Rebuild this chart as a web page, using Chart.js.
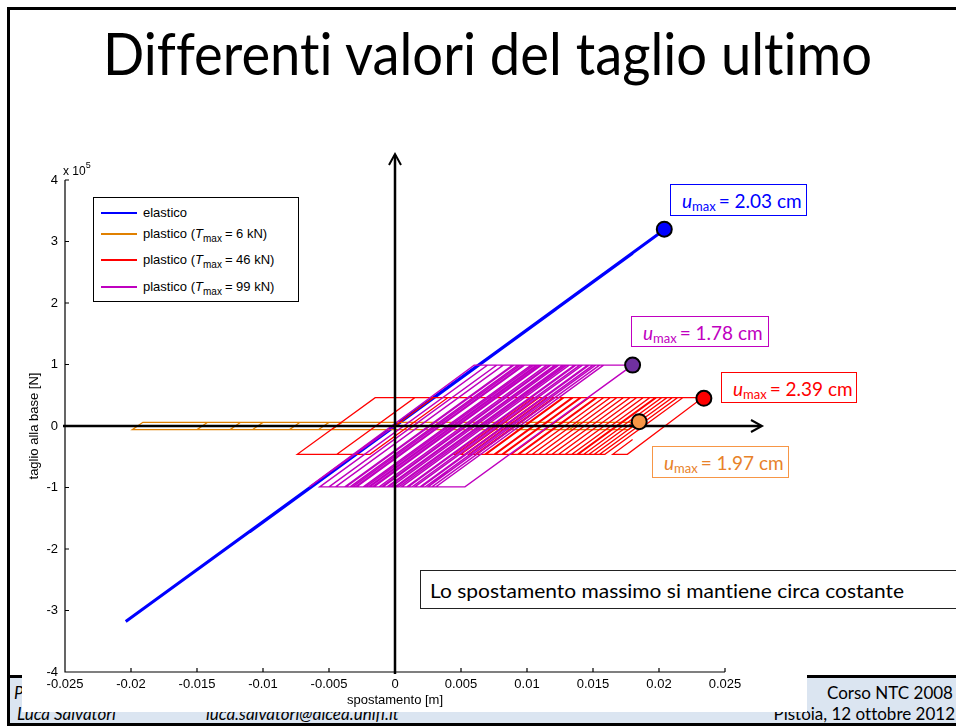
<!DOCTYPE html>
<html>
<head>
<meta charset="utf-8">
<script src="https://cdn.jsdelivr.net/npm/chart.js@4.4.1/dist/chart.umd.min.js"></script>
<style>
  html, body { margin: 0; padding: 0; background: #fff; }
  body { width: 956px; height: 727px; position: relative; overflow: hidden; font-family: Lato, 'Noto Sans', sans-serif; font-variant-ligatures: none; }
  .abs { position: absolute; }
  .bar { position: absolute; background: #000; z-index: 6; }
  #footer { left: 10px; top: 675px; width: 946px; height: 48px; background: #dbe5f1; border-top: 3px solid #000; box-sizing: border-box; z-index: 1; }
  .ft { position: absolute; font-size: 17px; line-height: 1; white-space: nowrap; color: #000; z-index: 2; }
  .ft.it { font-style: italic; }
  #figure { left: 22px; top: 120px; width: 785px; height: 592px; background: #fff; z-index: 3; }
  #c { position: absolute; left: 0; top: 0; z-index: 4; }
  #title { position: absolute; left: 10px; top: 24px; width: 956px; text-align: center; z-index: 5; }
  #title span { display: inline-block; font-size: 58px; line-height: 1; white-space: nowrap; transform-origin: center; }
  .ann { position: absolute; z-index: 5; background: #fff; border: 1.5px solid; box-sizing: border-box; font-size: 19px; white-space: nowrap; }
  .ann span { position: absolute; left: 11px; top: 50%; transform: translateY(-50%); line-height: 1; }
  .ann i { font-style: italic; }
  .ann sub { font-size: 13px; vertical-align: -3px; line-height: 0; margin-right: 3px; }
  #note { position: absolute; z-index: 5; left: 420px; top: 570px; width: 560px; height: 39px; border: 1.5px solid #222; box-sizing: border-box; background: #fff; }
  #note span { position: absolute; left: 9px; top: 8px; font-size: 20px; line-height: 1.1; white-space: nowrap; transform-origin: left center; }
  #legend { position: absolute; z-index: 5; left: 93px; top: 197px; width: 206px; height: 105px; border: 1.5px solid #000; box-sizing: border-box; background: #fff; font-family: 'Liberation Sans', Arial, sans-serif; font-size: 13px; }
  .lrow { position: absolute; left: 0; height: 18px; white-space: nowrap; }
  .lline { position: absolute; left: 7px; top: 8px; width: 36px; height: 2px; }
  .ltxt { position: absolute; left: 49px; top: 2px; line-height: 1; }
  .lrow sub { font-size: 10px; vertical-align: -4px; line-height: 0; margin-right: 3px; }
  #exp { position: absolute; z-index: 5; left: 63px; top: 165px; font-family: 'Liberation Sans', Arial, sans-serif; font-size: 12px; line-height: 1; }
  #exp sup { font-size: 9px; vertical-align: 7px; line-height: 0; }
</style>
</head>
<body>
<div class="bar" style="left:7px;top:7px;width:3px;height:719px"></div>
<div class="bar" style="left:7px;top:7px;width:949px;height:3px"></div>
<div class="bar" style="left:7px;top:723px;width:949px;height:3px"></div>

<div id="footer" class="abs"></div>
<div class="ft it" style="left:14px;top:684px">P</div>
<div class="ft it" style="left:17px;top:705px">Luca Salvatori</div>
<div class="ft it" style="left:206px;top:705px">luca.salvatori@dicea.unifi.it</div>
<div class="ft" style="right:3px;top:684px">Corso NTC 2008</div>
<div class="ft" style="right:1px;top:705px">Pistoia, 12 ottobre 2012</div>

<div id="figure" class="abs"></div>
<canvas id="c" width="956" height="727"></canvas>

<div id="title"><span>Differenti valori del taglio ultimo</span></div>
<div id="exp">x 10<sup>5</sup></div>

<div id="legend">
  <div class="lrow" style="top:6px"><span class="lline" style="background:#0000ff"></span><span class="ltxt">elastico</span></div>
  <div class="lrow" style="top:27px"><span class="lline" style="background:#e08000"></span><span class="ltxt">plastico (<i>T</i><sub>max</sub>= 6 kN)</span></div>
  <div class="lrow" style="top:53px"><span class="lline" style="background:#ff0000"></span><span class="ltxt">plastico (<i>T</i><sub>max</sub>= 46 kN)</span></div>
  <div class="lrow" style="top:80px"><span class="lline" style="background:#bf00bf"></span><span class="ltxt">plastico (<i>T</i><sub>max</sub>= 99 kN)</span></div>
</div>

<div class="ann" style="left:670px;top:184px;width:137px;height:32px;color:#0000ff;border-color:#0000ff"><span><i>u</i><sub>max</sub>= 2.03 cm</span></div>
<div class="ann" style="left:631px;top:316px;width:138px;height:31px;color:#c000c0;border-color:#c000c0"><span><i>u</i><sub>max</sub>= 1.78 cm</span></div>
<div class="ann" style="left:721px;top:372px;width:136px;height:31px;color:#ff0000;border-color:#ff0000"><span><i>u</i><sub>max</sub>= 2.39 cm</span></div>
<div class="ann" style="left:652px;top:446px;width:137px;height:32px;color:#e8822a;border-color:#f79646"><span><i>u</i><sub>max</sub>= 1.97 cm</span></div>
<div id="note"><span>Lo spostamento massimo si mantiene circa costante</span></div>

<script>
// spostamento [m], taglio [x 1e5 N]
const xTicks = [-0.025, -0.02, -0.015, -0.01, -0.005, 0, 0.005, 0.01, 0.015, 0.02, 0.025];
const yTicks = [-4, -3, -2, -1, 0, 1, 2, 3, 4];

const elastico = [
  [0, 0], [0.0122, 1.90], [-0.0150, -2.34], [0.0180, 2.81], [-0.0204, -3.18],
  [0.0160, 2.50], [-0.0110, -1.72], [0.0204, 3.19]
];

const plast6 = [
  [0, 0], [0.0004, 0.06], [0.0030, 0.06], [0.0022, -0.06], [-0.0080, -0.06],
  [-0.0072, 0.06], [-0.0040, 0.06], [-0.0048, -0.06], [-0.0150, -0.06], [-0.0142, 0.06],
  [-0.0100, 0.06], [-0.0108, -0.06], [-0.0199, -0.06], [-0.0191, 0.06], [-0.0050, 0.06],
  [-0.0058, -0.06], [-0.0125, -0.06], [-0.0117, 0.06], [0.0080, 0.06], [0.0072, -0.06],
  [0.0010, -0.06], [0.0018, 0.06], [0.0140, 0.06], [0.0132, -0.06], [0.0060, -0.06],
  [0.0068, 0.06], [0.0185, 0.06], [0.0177, -0.06], [0.0120, -0.06]
];

const plast46 = [
  [0, 0], [0.0029, 0.46], [0.0040, 0.46], [-0.0019, -0.46], [-0.0074, -0.46],
  [-0.0015, 0.46], [0.0015, 0.46], [-0.0044, -0.46], [0.0015, 0.46],
  [0.0105, 0.46], [0.0046, -0.46], [0.0044, -0.46], [0.0103, 0.46],
  [0.0112, 0.46], [0.0053, -0.46], [0.0050, -0.46], [0.0109, 0.46],
  [0.0120, 0.46], [0.0061, -0.46], [0.0056, -0.46], [0.0115, 0.46],
  [0.0128, 0.46], [0.0069, -0.46], [0.0062, -0.46], [0.0121, 0.46],
  [0.0135, 0.46], [0.0076, -0.46], [0.0068, -0.46], [0.0127, 0.46],
  [0.0140, 0.46], [0.0081, -0.46], [0.0075, -0.46], [0.0134, 0.46],
  [0.0147, 0.46], [0.0088, -0.46], [0.0082, -0.46], [0.0141, 0.46],
  [0.0152, 0.46], [0.0093, -0.46], [0.0088, -0.46], [0.0147, 0.46],
  [0.0158, 0.46], [0.0099, -0.46], [0.0094, -0.46], [0.0153, 0.46],
  [0.0163, 0.46], [0.0104, -0.46], [0.0099, -0.46], [0.0158, 0.46],
  [0.0168, 0.46], [0.0109, -0.46], [0.0104, -0.46], [0.0163, 0.46],
  [0.0173, 0.46], [0.0114, -0.46], [0.0109, -0.46], [0.0168, 0.46],
  [0.0178, 0.46], [0.0119, -0.46], [0.0114, -0.46], [0.0173, 0.46],
  [0.0183, 0.46], [0.0124, -0.46], [0.0119, -0.46], [0.0178, 0.46],
  [0.0188, 0.46], [0.0129, -0.46], [0.0124, -0.46], [0.0183, 0.46],
  [0.0193, 0.46], [0.0134, -0.46], [0.0129, -0.46], [0.0188, 0.46],
  [0.0197, 0.46], [0.0138, -0.46], [0.0134, -0.46], [0.0193, 0.46],
  [0.0202, 0.46], [0.0143, -0.46], [0.0139, -0.46], [0.0198, 0.46],
  [0.0206, 0.46], [0.0147, -0.46], [0.0143, -0.46], [0.0202, 0.46],
  [0.0210, 0.46], [0.0151, -0.46], [0.0147, -0.46], [0.0206, 0.46],
  [0.0214, 0.46], [0.0155, -0.46], [0.0151, -0.46], [0.0210, 0.46],
  [0.0218, 0.46], [0.0159, -0.46], [0.0155, -0.46], [0.0214, 0.46],
  [0.0233, 0.46], [0.0176, -0.46], [0.0165, -0.46], [0.0180, -0.22]
];

const plast99 = [
  [0, 0], [-0.0065, -0.99], [0.0060, 0.99],
  [0.0090, 0.99], [-0.0037, -0.99], [-0.0057, -0.99], [0.0070, 0.99],
  [0.0082, 0.99], [-0.0045, -0.99], [-0.0050, -0.99], [0.0077, 0.99],
  [0.0095, 0.99], [-0.0032, -0.99], [-0.0045, -0.99], [0.0082, 0.99],
  [0.0105, 0.99], [-0.0022, -0.99], [-0.0038, -0.99], [0.0089, 0.99],
  [0.0098, 0.99], [-0.0029, -0.99], [-0.0034, -0.99], [0.0093, 0.99],
  [0.0110, 0.99], [-0.0017, -0.99], [-0.0030, -0.99], [0.0097, 0.99],
  [0.0108, 0.99], [-0.0019, -0.99], [-0.0024, -0.99], [0.0103, 0.99],
  [0.0118, 0.99], [-0.0009, -0.99], [-0.0020, -0.99], [0.0107, 0.99],
  [0.0115, 0.99], [-0.0012, -0.99], [-0.0016, -0.99], [0.0111, 0.99],
  [0.0124, 0.99], [-0.0003, -0.99], [-0.0010, -0.99], [0.0117, 0.99],
  [0.0122, 0.99], [-0.0005, -0.99], [-0.0006, -0.99], [0.0121, 0.99],
  [0.0128, 0.99], [0.0001, -0.99], [-0.0003, -0.99], [0.0124, 0.99],
  [0.0130, 0.99], [0.0003, -0.99], [0.0000, -0.99], [0.0127, 0.99],
  [0.0136, 0.99], [0.0009, -0.99], [0.0005, -0.99], [0.0132, 0.99],
  [0.0140, 0.99], [0.0013, -0.99], [0.0010, -0.99], [0.0137, 0.99],
  [0.0146, 0.99], [0.0019, -0.99], [0.0015, -0.99], [0.0142, 0.99],
  [0.0150, 0.99], [0.0023, -0.99], [0.0020, -0.99], [0.0147, 0.99],
  [0.0155, 0.99], [0.0028, -0.99], [0.0025, -0.99], [0.0152, 0.99],
  [0.0158, 0.99], [0.0031, -0.99], [0.0028, -0.99], [0.0155, 0.99],
  [0.0180, 0.99], [0.0053, -0.99], [0.0025, -0.99], [0.0040, -0.75]
];

// u_max points
const maxPts = [[0.0204, 3.20], [0.0185, 0.07], [0.0234, 0.45], [0.0180, 0.99]];
const maxColors = ['#0000ff', '#f79646', '#ff0000', '#7030a0'];

const toXY = pts => pts.map(([x, y]) => ({ x, y }));
const lineSet = (pts, color, w, order) => ({
  data: toXY(pts), borderColor: color, borderWidth: w, showLine: true,
  pointRadius: 0, fill: false, tension: 0, order: order
});

const tickFont = { family: "'Liberation Sans', Arial, sans-serif", size: 13 };

const slidePlugin = {
  id: 'slideAxes',
  beforeDatasetsDraw(chart) {
    const { ctx, chartArea: a, scales: { x, y } } = chart;
    ctx.save();
    ctx.strokeStyle = '#000';
    ctx.lineWidth = 1.2;
    ctx.beginPath();
    ctx.moveTo(a.left, a.top); ctx.lineTo(a.left, a.bottom); ctx.lineTo(a.right, a.bottom);
    xTicks.forEach(v => { const px = x.getPixelForValue(v); ctx.moveTo(px, a.bottom); ctx.lineTo(px, a.bottom - 4); });
    yTicks.forEach(v => { const py = y.getPixelForValue(v); ctx.moveTo(a.left, py); ctx.lineTo(a.left + 4, py); });
    ctx.stroke();
    ctx.restore();
  },
  afterDatasetDraw(chart, args) {
    if (args.index !== 3) return;
    const { ctx, chartArea: a, scales: { x, y } } = chart;
    const x0 = x.getPixelForValue(0), y0 = y.getPixelForValue(0);
    ctx.save();
    ctx.strokeStyle = '#000';
    ctx.lineWidth = 2.5;
    ctx.beginPath();
    ctx.moveTo(x0, a.bottom + 2); ctx.lineTo(x0, 155);
    ctx.moveTo(63, y0); ctx.lineTo(760, y0);
    ctx.stroke();
    ctx.lineWidth = 2;
    ctx.beginPath();
    ctx.moveTo(x0 - 6, 165); ctx.lineTo(x0, 154); ctx.lineTo(x0 + 6, 165);
    ctx.moveTo(751, y0 - 6); ctx.lineTo(762, y0); ctx.lineTo(751, y0 + 6);
    ctx.stroke();
    ctx.restore();
  }
};

new Chart(document.getElementById('c'), {
  type: 'scatter',
  data: {
    datasets: [
      lineSet(elastico, '#0000ff', 3, 4),
      lineSet(plast6, '#e08000', 1.3, 3),
      lineSet(plast46, '#ff0000', 1.3, 2),
      lineSet(plast99, '#bf00bf', 1.4, 1),
      {
        data: toXY(maxPts), showLine: false, order: 0,
        pointRadius: 7.5, pointBackgroundColor: maxColors,
        pointBorderColor: '#000', pointBorderWidth: 2
      }
    ]
  },
  options: {
    responsive: false,
    animation: false,
    events: [],
    layout: { padding: { left: 0, right: 231, top: 180, bottom: 0 } },
    plugins: { legend: { display: false }, tooltip: { enabled: false } },
    scales: {
      x: {
        type: 'linear', min: -0.025, max: 0.025,
        afterBuildTicks: s => { s.ticks = xTicks.map(v => ({ value: v })); },
        afterFit: s => { s.height = 55; },
        grid: { display: false, drawTicks: false },
        border: { display: false },
        ticks: { color: '#000', font: tickFont, padding: 5, maxRotation: 0, autoSkip: false,
                 callback: v => String(Number(v.toFixed(3))) },
        title: { display: true, text: 'spostamento [m]', color: '#000', font: tickFont, padding: { top: 0, bottom: 19 } }
      },
      y: {
        type: 'linear', min: -4, max: 4,
        afterBuildTicks: s => { s.ticks = yTicks.map(v => ({ value: v })); },
        afterFit: s => { s.width = 65; },
        grid: { display: false, drawTicks: false },
        border: { display: false },
        ticks: { color: '#000', font: tickFont, padding: 7, autoSkip: false,
                 callback: v => String(v) },
        title: { display: true, text: 'taglio alla base [N]', color: '#000', font: tickFont, padding: { top: 27, bottom: 0 } }
      }
    }
  },
  plugins: [slidePlugin]
});

// fit slide texts to the reference widths
function fitTo(el, w) {
  const r = el.getBoundingClientRect().width;
  if (r > 0) el.style.transform = 'scaleX(' + (w / r) + ')';
}
fitTo(document.querySelector('#title span'), 769);
fitTo(document.querySelector('#note span'), 474);
</script>
</body>
</html>
